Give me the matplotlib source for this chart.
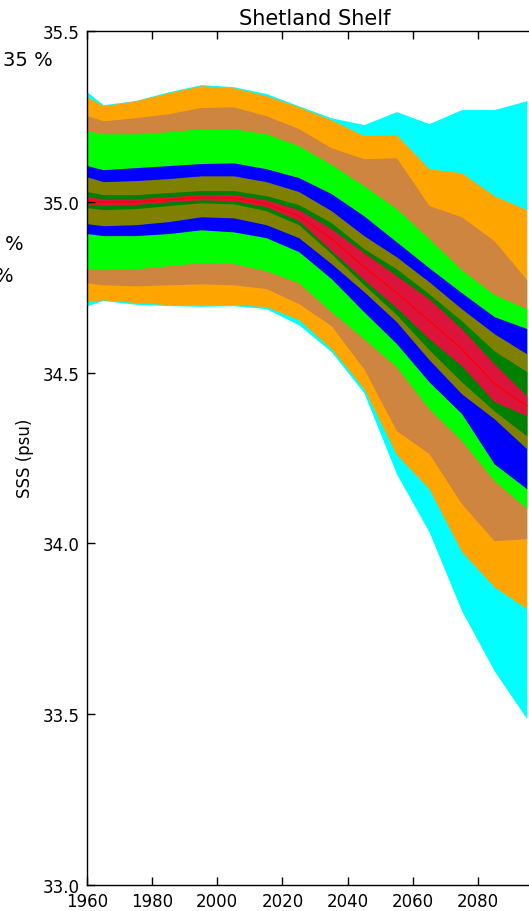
import matplotlib
matplotlib.use("Agg")
import matplotlib.pyplot as plt
import numpy as np

plt.rcParams['font.family'] = ['DejaVu Sans']

# Projection years (model output sampled at decade mid-points)
years = [1960, 1965, 1975, 1985, 1995, 2005, 2015, 2025, 2035, 2045, 2055, 2065, 2075, 2085, 2095]

# Sea surface salinity envelope bounds (psu), outermost to innermost
cyan_hi   = [35.322, 35.284, 35.297, 35.322, 35.343, 35.337, 35.317, 35.281, 35.246, 35.226, 35.264, 35.229, 35.270, 35.270, 35.296]
cyan_lo   = [34.696, 34.711, 34.700, 34.696, 34.694, 34.696, 34.687, 34.640, 34.561, 34.441, 34.204, 34.034, 33.803, 33.627, 33.487]
orange_hi = [35.308, 35.281, 35.296, 35.319, 35.340, 35.334, 35.311, 35.278, 35.240, 35.194, 35.196, 35.097, 35.085, 35.018, 34.977]
orange_lo = [34.708, 34.713, 34.705, 34.699, 34.699, 34.699, 34.693, 34.655, 34.570, 34.453, 34.260, 34.160, 33.976, 33.873, 33.809]
peru_hi   = [35.252, 35.237, 35.246, 35.258, 35.276, 35.278, 35.252, 35.214, 35.158, 35.126, 35.129, 34.989, 34.956, 34.886, 34.772]
peru_lo   = [34.763, 34.757, 34.754, 34.757, 34.760, 34.757, 34.746, 34.702, 34.637, 34.511, 34.330, 34.263, 34.116, 34.008, 34.014]
lime_hi   = [35.208, 35.199, 35.199, 35.205, 35.214, 35.214, 35.199, 35.164, 35.109, 35.047, 34.980, 34.892, 34.801, 34.728, 34.687]
lime_lo   = [34.804, 34.801, 34.804, 34.813, 34.822, 34.819, 34.798, 34.763, 34.678, 34.599, 34.517, 34.394, 34.301, 34.184, 34.102]
blue_hi   = [35.106, 35.094, 35.100, 35.106, 35.112, 35.114, 35.097, 35.071, 35.024, 34.959, 34.883, 34.807, 34.734, 34.664, 34.629]
blue_lo   = [34.907, 34.901, 34.901, 34.907, 34.918, 34.912, 34.895, 34.854, 34.775, 34.678, 34.585, 34.473, 34.380, 34.233, 34.160]
olive_hi  = [35.073, 35.059, 35.062, 35.068, 35.076, 35.076, 35.059, 35.030, 34.974, 34.901, 34.839, 34.766, 34.687, 34.614, 34.555]
olive_lo  = [34.936, 34.930, 34.933, 34.942, 34.956, 34.953, 34.933, 34.895, 34.819, 34.737, 34.649, 34.538, 34.438, 34.365, 34.277]
green_hi  = [35.030, 35.021, 35.021, 35.027, 35.033, 35.033, 35.018, 34.992, 34.939, 34.863, 34.804, 34.731, 34.652, 34.564, 34.503]
green_lo  = [34.983, 34.977, 34.980, 34.989, 34.997, 34.994, 34.974, 34.933, 34.848, 34.757, 34.670, 34.567, 34.473, 34.388, 34.315]
red_hi    = [35.015, 35.009, 35.009, 35.015, 35.021, 35.021, 35.006, 34.977, 34.921, 34.851, 34.784, 34.716, 34.629, 34.526, 34.432]
red_lo    = [34.994, 34.989, 34.992, 35.000, 35.006, 35.003, 34.986, 34.945, 34.857, 34.772, 34.690, 34.599, 34.520, 34.415, 34.374]
median    = [35.003, 34.999, 35.000, 35.006, 35.012, 35.011, 34.994, 34.959, 34.892, 34.810, 34.734, 34.652, 34.570, 34.468, 34.403]

bands = [
    (cyan_lo, cyan_hi, '#00FFFF'),
    (orange_lo, orange_hi, '#FFA500'),
    (peru_lo, peru_hi, '#CD853F'),
    (lime_lo, lime_hi, '#00FF00'),
    (blue_lo, blue_hi, '#0000FF'),
    (olive_lo, olive_hi, '#808000'),
    (green_lo, green_hi, '#008000'),
    (red_lo, red_hi, '#DC143C'),
]

x_ticks = [1960, 1980, 2000, 2020, 2040, 2060, 2080]
y_ticks = [33.0, 33.5, 34.0, 34.5, 35.0, 35.5]

W, H = 529, 912
fig = plt.figure(figsize=(W / 100, H / 100), dpi=100)
ax = fig.add_axes([87 / W, (H - 886) / H, 456 / W, 854 / H])

for lo, hi, col in bands:
    ax.fill_between(years, lo, hi, color=col, linewidth=0)
ax.plot(years, median, color='#FF0000', linewidth=1.0)

ax.set_xlim(1960, 2100)
ax.set_ylim(33.0, 35.5)
ax.set_xticks(x_ticks)
ax.set_yticks(y_ticks)
ax.set_yticklabels([f"{v:.1f}" for v in y_ticks])
ax.tick_params(direction='in', top=True, right=True, length=5.5, width=1,
               labelsize=12, pad=5)
for s in ax.spines.values():
    s.set_linewidth(1.0)

ax.set_title("Shetland Shelf", fontsize=15, pad=5)
fig.text(25 / W, 1 - 458 / H, "SSS (psu)", rotation=90, fontsize=12,
         ha='center', va='center')

# Legend entries of the neighbouring panel reaching into this one
fig.text(53 / W, 1 - 61 / H, "35 %", fontsize=14, ha='right', va='center')
fig.text(23 / W, 1 - 245 / H, "%", fontsize=14, ha='right', va='center')
fig.text(14 / W, 1 - 277 / H, "%", fontsize=14, ha='right', va='center')

fig.savefig("out.png", dpi=100)
